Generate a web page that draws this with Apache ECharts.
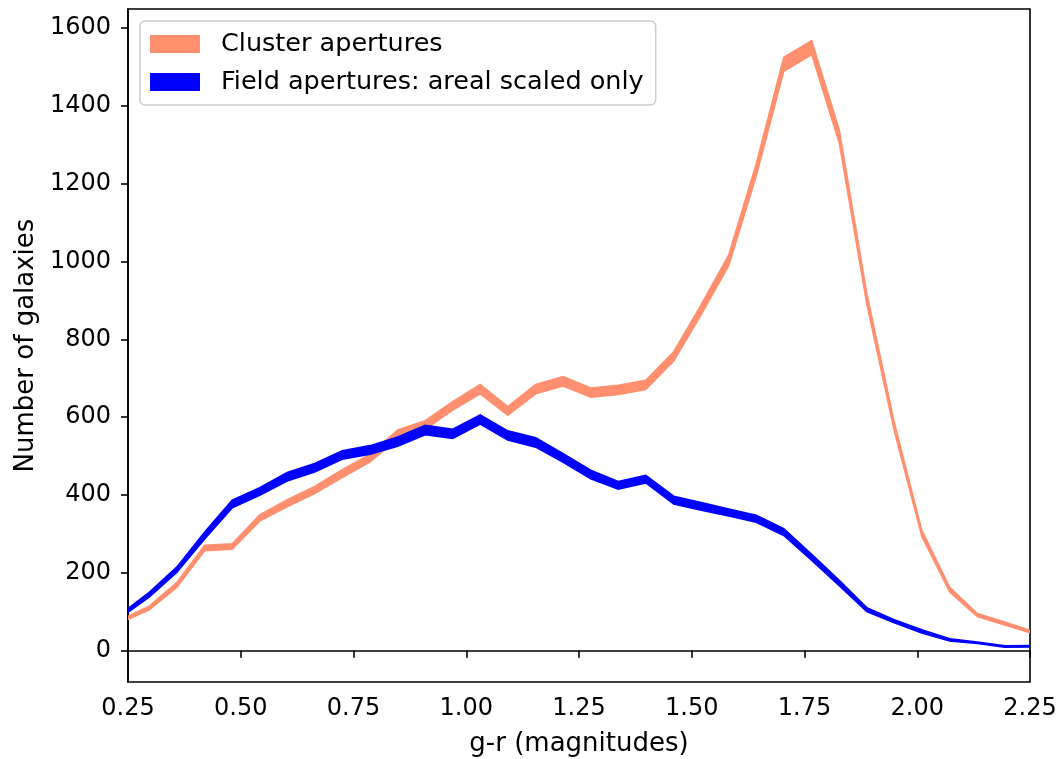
<!DOCTYPE html>
<html>
<head>
<meta charset="utf-8">
<script src="https://cdn.jsdelivr.net/npm/echarts@6/dist/echarts.min.js"></script>
<style>
html,body{margin:0;padding:0;background:#fff;}
#chart{width:1063px;height:759px;}
</style>
</head>
<body>
<div id="chart"></div>
<script>
// g-r colour bin centres (magnitudes)
var colours = [0.236, 0.297, 0.358, 0.420, 0.481, 0.542, 0.603, 0.664, 0.725, 0.787,
               0.848, 0.909, 0.970, 1.031, 1.092, 1.154, 1.215, 1.276, 1.337, 1.398,
               1.460, 1.521, 1.582, 1.643, 1.704, 1.766, 1.827, 1.888, 1.949, 2.010,
               2.072, 2.133, 2.194, 2.255];

// Cluster apertures: lower / upper edge of the band
var clusterLow  = [73, 105, 163, 257, 261, 333, 370, 404, 445, 485,
                   545, 569, 618, 660, 605, 660, 680, 651, 658, 671,
                   744, 863, 989, 1219, 1488, 1531, 1304, 891, 565, 294,
                   151, 88, 66, 45];
var clusterHigh = [81, 115, 175, 271, 275, 349, 388, 422, 465, 505,
                   567, 591, 640, 684, 627, 684, 704, 675, 682, 695,
                   768, 889, 1017, 1251, 1524, 1567, 1338, 919, 587, 310,
                   163, 96, 74, 51];

// Field apertures (areal scaled only): lower / upper edge of the band
var fieldLow  = [87, 138, 201, 287, 367, 399, 436, 459, 492, 505,
                 525, 555, 545, 582, 541, 523, 484, 442, 415, 431,
                 377, 361, 346, 330, 296, 232, 167, 101, 72, 46,
                 25, 19, 9, 10];
var fieldHigh = [97, 150, 215, 305, 387, 419, 458, 481, 514, 527,
                 549, 579, 569, 606, 565, 547, 506, 464, 435, 451,
                 397, 381, 364, 348, 314, 248, 181, 111, 80, 54,
                 31, 23, 13, 14];

var yTicks = [0, 200, 400, 600, 800, 1000, 1200, 1400, 1600];

var seriesNames = ['Cluster apertures', 'Field apertures: areal scaled only'];
var CLUSTER_COLOR = '#ff8f6f';
var FIELD_COLOR = '#0000ff';
var FONT = 'DejaVu Sans';

function band(name, low, high, color) {
  return {
    type: 'custom', name: name,
    data: colours.map(function (x, i) { return [x, low[i], high[i]]; }),
    encode: { x: 0, y: [1, 2] },
    itemStyle: { color: color },
    silent: true,
    renderItem: function (params, api) {
      if (params.dataIndex !== 0) return null;
      var pts = [];
      var i;
      for (i = 0; i < colours.length; i++) pts.push(api.coord([colours[i], high[i]]));
      for (i = colours.length - 1; i >= 0; i--) pts.push(api.coord([colours[i], low[i]]));
      var cs = params.coordSys;
      return {
        type: 'group',
        clipPath: { type: 'rect', shape: { x: cs.x, y: cs.y, width: cs.width, height: cs.height } },
        children: [{
          type: 'polygon',
          shape: { points: pts },
          style: { fill: color, stroke: color, lineWidth: 1.5, lineJoin: 'miter' }
        }]
      };
    }
  };
}

var series = [
  band(seriesNames[0], clusterLow, clusterHigh, CLUSTER_COLOR),
  band(seriesNames[1], fieldLow, fieldHigh, FIELD_COLOR)
];

var chart = echarts.init(document.getElementById('chart'), null, { renderer: 'canvas' });
chart.setOption({
  animation: false,
  backgroundColor: '#ffffff',
  textStyle: { fontFamily: FONT },
  grid: {
    left: 128, right: 33, top: 9, bottom: 77,
    containLabel: false, outerBoundsMode: 'none',
    show: true, borderColor: '#000', borderWidth: 1.6, backgroundColor: 'transparent'
  },
  legend: {
    data: seriesNames,
    orient: 'vertical',
    left: 140, top: 21,
    icon: 'rect',
    itemWidth: 50, itemHeight: 18, itemGap: 12,
    padding: [10, 12, 10, 10],
    backgroundColor: 'rgba(255,255,255,0.8)',
    borderColor: '#cccccc', borderWidth: 1.5, borderRadius: 5,
    itemStyle: { borderWidth: 0 },
    textStyle: { fontFamily: FONT, fontSize: 25.5, color: '#000', padding: [0, 0, 0, 16], lineHeight: 25 },
    selectedMode: false
  },
  xAxis: {
    type: 'value', min: 0.25, max: 2.25, interval: 0.25,
    name: 'g-r (magnitudes)', nameLocation: 'middle', nameGap: 49,
    nameTextStyle: { fontFamily: FONT, fontSize: 26, color: '#000' },
    axisLine: { show: true, lineStyle: { color: '#000', width: 1.6 } },
    axisTick: { show: true, inside: false, length: 7, lineStyle: { color: '#000', width: 1.6 } },
    axisLabel: {
      fontFamily: FONT, fontSize: 24, color: '#000', margin: 15,
      formatter: function (v) { return v.toFixed(2); }
    },
    splitLine: { show: false }
  },
  yAxis: {
    type: 'value', min: -80, max: 1648,
    name: 'Number of galaxies', nameLocation: 'middle', nameGap: 84,
    nameTextStyle: { fontFamily: FONT, fontSize: 26, color: '#000' },
    axisLine: { show: true, lineStyle: { color: '#000', width: 1.6 } },
    axisTick: { show: true, inside: false, length: 7, customValues: yTicks, lineStyle: { color: '#000', width: 1.6 } },
    axisLabel: {
      fontFamily: FONT, fontSize: 24, color: '#000', margin: 17, customValues: yTicks,
      formatter: function (v) { return String(v); }
    },
    splitLine: { show: false }
  },
  series: series
});
</script>
</body>
</html>
